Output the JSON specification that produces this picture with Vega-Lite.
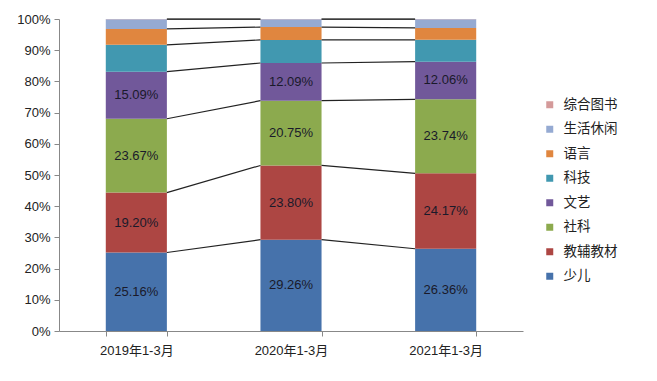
{
  "$schema": "https://vega.github.io/schema/vega-lite/v6.json",
  "width": 464,
  "height": 312,
  "autosize": "none",
  "padding": {"left": 59, "top": 19, "right": 134, "bottom": 50},
  "background": "white",
  "config": {
    "view": {"stroke": null},
    "font": "Liberation Sans, Noto Sans CJK SC",
    "axis": {"labelFont": "Liberation Sans, Noto Sans CJK SC"},
    "axisY": {
      "values": [0, 10, 20, 30, 40, 50, 60, 70, 80, 90, 100],
      "labelExpr": "datum.value + '%'",
      "labelOverlap": false,
      "grid": false,
      "labelFontSize": 13,
      "labelColor": "#222",
      "tickSize": 5,
      "tickColor": "#888",
      "domainColor": "#888",
      "labelPadding": 4,
      "title": null
    }
  },
  "data": {
    "values": [
      {"cat": "2019年1-3月", "series": "少儿", "order": 1, "value": 25.16},
      {"cat": "2019年1-3月", "series": "教辅教材", "order": 2, "value": 19.20},
      {"cat": "2019年1-3月", "series": "社科", "order": 3, "value": 23.67},
      {"cat": "2019年1-3月", "series": "文艺", "order": 4, "value": 15.09},
      {"cat": "2019年1-3月", "series": "科技", "order": 5, "value": 8.6},
      {"cat": "2019年1-3月", "series": "语言", "order": 6, "value": 5.1},
      {"cat": "2019年1-3月", "series": "生活休闲", "order": 7, "value": 3.1},
      {"cat": "2019年1-3月", "series": "综合图书", "order": 8, "value": 0.08},
      {"cat": "2020年1-3月", "series": "少儿", "order": 1, "value": 29.26},
      {"cat": "2020年1-3月", "series": "教辅教材", "order": 2, "value": 23.80},
      {"cat": "2020年1-3月", "series": "社科", "order": 3, "value": 20.75},
      {"cat": "2020年1-3月", "series": "文艺", "order": 4, "value": 12.09},
      {"cat": "2020年1-3月", "series": "科技", "order": 5, "value": 7.4},
      {"cat": "2020年1-3月", "series": "语言", "order": 6, "value": 4.1},
      {"cat": "2020年1-3月", "series": "生活休闲", "order": 7, "value": 2.52},
      {"cat": "2020年1-3月", "series": "综合图书", "order": 8, "value": 0.08},
      {"cat": "2021年1-3月", "series": "少儿", "order": 1, "value": 26.36},
      {"cat": "2021年1-3月", "series": "教辅教材", "order": 2, "value": 24.17},
      {"cat": "2021年1-3月", "series": "社科", "order": 3, "value": 23.74},
      {"cat": "2021年1-3月", "series": "文艺", "order": 4, "value": 12.06},
      {"cat": "2021年1-3月", "series": "科技", "order": 5, "value": 7.0},
      {"cat": "2021年1-3月", "series": "语言", "order": 6, "value": 3.8},
      {"cat": "2021年1-3月", "series": "生活休闲", "order": 7, "value": 2.79},
      {"cat": "2021年1-3月", "series": "综合图书", "order": 8, "value": 0.08}
    ]
  },
  "transform": [
    {"stack": "value", "groupby": ["cat"], "sort": [{"field": "order", "order": "ascending"}], "as": ["y0", "y1"]}
  ],
  "encoding": {
    "x": {
      "field": "cat",
      "type": "nominal",
      "title": null,
      "scale": {"paddingInner": 0.605, "paddingOuter": 0.3025},
      "axis": {
        "labelAngle": 0,
        "labelFontSize": 13,
        "labelColor": "#222",
        "labelPadding": 8,
        "tickBand": "extent",
        "tickSize": 5,
        "tickColor": "#888",
        "domainColor": "#888"
      }
    }
  },
  "layer": [
    {
      "mark": {"type": "bar"},
      "encoding": {
        "y": {
          "field": "y0",
          "type": "quantitative",
          "title": null,
          "scale": {"domain": [0, 100], "nice": false}
        },
        "y2": {"field": "y1"},
        "color": {
          "field": "series",
          "type": "nominal",
          "scale": {
            "domain": ["综合图书", "生活休闲", "语言", "科技", "文艺", "社科", "教辅教材", "少儿"],
            "range": ["#D49A9A", "#95AAD2", "#E0863F", "#4198B0", "#71589A", "#8CAA4E", "#AD4643", "#4672AB"]
          },
          "legend": {
            "orient": "none",
            "legendX": 484,
            "legendY": 79,
            "title": null,
            "symbolType": "square",
            "symbolSize": 49,
            "symbolStrokeWidth": 0,
            "labelFontSize": 13.5,
            "labelColor": "#222",
            "labelOffset": 7,
            "rowPadding": 9.5
          }
        }
      }
    },
    {
      "transform": [
        {"window": [{"op": "lead", "field": "y1", "as": "ny"}, {"op": "lead", "field": "cat", "as": "ncat"}], "groupby": ["series"], "sort": [{"field": "cat", "order": "ascending"}]},
        {"filter": "datum.ncat != null"}
      ],
      "mark": {"type": "rule", "color": "#222", "strokeWidth": 1.2},
      "encoding": {
        "x": {"field": "cat", "type": "nominal", "bandPosition": 1},
        "x2": {"field": "ncat", "bandPosition": 0},
        "y": {"field": "y1", "type": "quantitative", "title": null},
        "y2": {"field": "ny"}
      }
    },
    {
      "transform": [
        {"filter": "datum.order <= 4"},
        {"calculate": "(datum.y0 + datum.y1) / 2", "as": "mid"},
        {"calculate": "format(datum.value, '.2f') + '%'", "as": "label"}
      ],
      "mark": {"type": "text", "fontSize": 13, "color": "#1a1a2a", "baseline": "middle"},
      "encoding": {
        "y": {"field": "mid", "type": "quantitative", "title": null},
        "text": {"field": "label"}
      }
    }
  ]
}
